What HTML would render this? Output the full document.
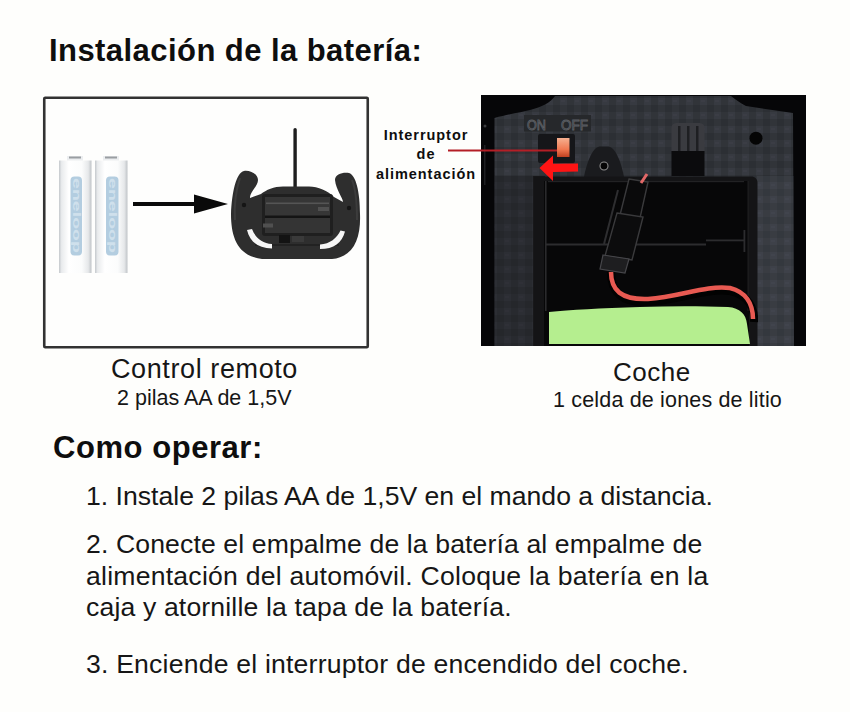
<!DOCTYPE html>
<html><head><meta charset="utf-8">
<style>
html,body{margin:0;padding:0;background:#fefefc;width:850px;height:712px;overflow:hidden;position:relative}
.t{position:absolute;font-family:"Liberation Sans",sans-serif;white-space:nowrap;color:#161616;line-height:1}
.b{font-weight:bold;color:#0e0e0e}
svg{position:absolute;left:0;top:0}
</style></head><body>
<svg width="850" height="712" viewBox="0 0 850 712">
<defs>
 <linearGradient id="batg" x1="0" x2="1" y1="0" y2="0">
  <stop offset="0" stop-color="#c4c8cc"/>
  <stop offset="0.08" stop-color="#e9ebed"/>
  <stop offset="0.3" stop-color="#ffffff"/>
  <stop offset="0.7" stop-color="#fbfcfc"/>
  <stop offset="0.9" stop-color="#e6e8ea"/>
  <stop offset="1" stop-color="#bfc3c7"/>
 </linearGradient>
 <pattern id="carbon" width="14" height="14" patternUnits="userSpaceOnUse">
  <rect width="14" height="14" fill="#313439"/>
  <rect x="0" y="0" width="7" height="7" fill="#373a41"/>
  <rect x="7" y="7" width="7" height="7" fill="#2c2f34"/>
  <rect x="1" y="2" width="4" height="2" fill="#3d4048" opacity="0.6"/>
 </pattern>
 <linearGradient id="sw" x1="0" x2="0" y1="0" y2="1">
  <stop offset="0" stop-color="#f6b090"/>
  <stop offset="0.6" stop-color="#f07850"/>
  <stop offset="1" stop-color="#c04020"/>
 </linearGradient>
</defs>
<!-- left box -->
<rect x="44.25" y="97.75" width="323.5" height="249.5" rx="1" fill="#fefefd" stroke="#323232" stroke-width="2.6"/>
<!-- batteries -->
<g>
<rect x="59" y="160.5" width="32.5" height="112.5" fill="url(#batg)"/>
<rect x="95" y="160.5" width="32.5" height="112.5" fill="url(#batg)"/>
<rect x="67" y="156" width="16" height="4.5" fill="#eceef0"/><rect x="69" y="156.5" width="12" height="2" fill="#9a9ea2"/>
<rect x="103" y="156" width="16" height="4.5" fill="#eceef0"/><rect x="105" y="156.5" width="12" height="2" fill="#9a9ea2"/>
<rect x="70.5" y="176.5" width="11.5" height="79" rx="4" fill="#b3cde0"/>
<rect x="106" y="176.5" width="12.5" height="79" rx="4" fill="#b3cde0"/>
<text transform="translate(72.5,178) rotate(90)" font-family="Liberation Sans" font-weight="bold" font-size="11" fill="#cfe0ec" textLength="75" lengthAdjust="spacingAndGlyphs">eneloop</text>
<text transform="translate(108.5,178) rotate(90)" font-family="Liberation Sans" font-weight="bold" font-size="11" fill="#cfe0ec" textLength="75" lengthAdjust="spacingAndGlyphs">eneloop</text>
</g>
<!-- arrow -->
<rect x="133" y="202" width="64" height="4" fill="#0a0a0a"/>
<polygon points="194,194.5 228,204 194,213.5" fill="#0a0a0a"/>
<!-- controller -->
<rect x="293.4" y="128" width="3.4" height="62" rx="1.7" fill="#1e1e1e"/>
<path d="M244,171 C236,173 232,192 231,214 C231,238 238,256 262,259 L332,259 C354,257 361,238 360,214 C360,192 356,175 349,173 C343,172 335,174 335,180 C336,190 343,198 343,202 L334,197 C328,191 318,186.5 309,186.5 L283,186.5 C274,186.5 266,190 261,194 L250,198 C250,192 258,186 258,180 C258,174 250,170 244,171 Z" fill="#2e2e2e"/>
<path d="M240,178 C236,190 234,205 235,220" fill="none" stroke="#3c3c3c" stroke-width="2"/>
<path d="M352,180 C356,190 357,205 357,220" fill="none" stroke="#3c3c3c" stroke-width="2"/>
<rect x="262" y="194" width="71" height="42" rx="3" fill="#1f1f1f"/>
<rect x="265" y="197" width="65" height="19.5" fill="#363636"/>
<rect x="265" y="218" width="65" height="15" fill="#343434"/>
<rect x="266" y="202.5" width="63" height="1.6" fill="#555"/>
<rect x="265" y="215.5" width="65" height="2.5" fill="#141414"/>
<rect x="318" y="207" width="11" height="4" fill="#505050"/>
<rect x="263" y="223.5" width="10" height="4" fill="#505050"/>
<rect x="279" y="235" width="11" height="8" fill="#131313"/>
<rect x="292" y="236" width="12" height="6" fill="#3a3a3a"/>
<rect x="255" y="244" width="84" height="2" fill="#222"/>
<path d="M247,230 C250,242 258,248 272,248.5 L272,244 C262,243.5 255,237 252,229 Z" fill="#f6f6f6"/>
<path d="M345,231.5 C342,243 334,249 320,249 L320,244.5 C330,244 337,238 340.5,230.5 Z" fill="#f6f6f6"/>
<circle cx="244" cy="205" r="2.2" fill="#151515"/>
<circle cx="349" cy="208" r="2.2" fill="#151515"/>
<!-- car photo -->
<rect x="481" y="95" width="325" height="251" fill="#060608"/>
<rect x="484" y="145" width="1.5" height="40" fill="#1e1f22"/><circle cx="485" cy="126" r="1.5" fill="#3a3b3e"/>
<path d="M494.5,118 C510,114 522,112 530,110 C542,107 550,103 555,96 L731,96 C736,100 742,104 746,106 L793,113 L794,346 L494.5,346 Z" fill="url(#carbon)"/>
<rect x="494.5" y="176" width="39" height="170" fill="#1a1b1e" opacity="0.35"/>
<rect x="757" y="176" width="37" height="170" fill="#6a7080" opacity="0.14"/>
<rect x="533" y="176" width="12" height="170" fill="#18181a"/>
<!-- on off label -->
<rect x="524" y="115" width="67" height="16.5" fill="#26282b"/>
<text x="527" y="129.5" font-family="Liberation Sans" font-size="14" fill="#26282b" stroke="#5c5f64" stroke-width="0.9" textLength="19" lengthAdjust="spacingAndGlyphs">ON</text><text x="561" y="129.5" font-family="Liberation Sans" font-size="14" fill="#26282b" stroke="#5c5f64" stroke-width="0.9" textLength="27" lengthAdjust="spacingAndGlyphs">OFF</text>
<!-- switch slot -->
<rect x="538" y="134" width="37" height="29" rx="2" fill="#151619"/>
<rect x="557" y="138" width="12.5" height="19" fill="url(#sw)"/>
<!-- screw boss -->
<path d="M584,177 C586,166 590,154 595,149 C597,147 599,146.5 601,146.5 L607,146.5 C609,146.5 611,147 613,149 C618,154 622,166 624,177 Z" fill="#1a1b1e"/>
<circle cx="604" cy="166" r="4" fill="#050505" stroke="#8c8c8c" stroke-width="1.1"/>
<!-- connector -->
<path d="M671.5,151 L671.5,128 C671.5,124 674,123 678,123 L698,123 C702,123 704.5,124 704.5,128 L704.5,151 Z" fill="#3a3b40"/>
<rect x="678" y="126" width="2.5" height="25" fill="#1e1f22"/>
<rect x="687" y="126" width="2.5" height="25" fill="#1e1f22"/>
<rect x="696" y="126" width="2.5" height="25" fill="#1e1f22"/>
<rect x="671.5" y="151" width="33" height="25" fill="#0b0b0d"/>
<circle cx="756" cy="138.2" r="6.5" fill="#050505"/>
<!-- compartment -->
<path d="M534,346 L534,176.5 L751,176.5 C755,176.5 757.5,179 757.5,183 L757.5,346 Z" fill="#141416"/>
<rect x="544" y="181" width="205" height="165" fill="#070708"/>
<rect x="545" y="181" width="1.6" height="130" fill="#2a2a2c"/>
<rect x="747.5" y="181" width="1.4" height="130" fill="#1e1e20"/>
<rect x="548" y="181" width="196" height="1.2" fill="#222224"/>
<rect x="546" y="243.5" width="160" height="2" fill="#2c2c2e"/>
<rect x="706" y="239.5" width="39" height="1.8" fill="#2c2c2e"/>
<rect x="743.5" y="230" width="1.8" height="22" fill="#2c2c2e"/>
<!-- wire connector -->
<path d="M629,179 L648,182 L640,218 L620,215 Z" fill="#0a0a0b" stroke="#3a3a3c" stroke-width="1.4"/>
<path d="M617,213 L643,217 L632,260 L605,256 Z" fill="#0c0c0d" stroke="#3a3a3c" stroke-width="1.4"/>
<path d="M618,190 L604,244" stroke="#2e2e30" stroke-width="2"/>
<path d="M603,255 L629,259 L625,273 L600,269 Z" fill="#1e1e20" stroke="#46464a" stroke-width="1.2"/>
<line x1="641" y1="183" x2="647" y2="174" stroke="#e26868" stroke-width="3"/>
<!-- battery -->
<path d="M549,312 C570,310 600,308 640,307 C670,306 700,306 728,307 C740,308 746,314 747,324 L750,344 L549,344 Z" fill="#b5ee8f"/>
<path d="M611,272 C611,292 621,303 648,302 C680,300 705,288 730,291 C748,295 755,308 754,322" fill="none" stroke="#020202" stroke-width="8"/>
<path d="M611,272 C611,290 621,300 648,299 C680,297 705,285 730,288 C746,292 753,304 753,319" fill="none" stroke="#e85a52" stroke-width="4.5"/>
<!-- pointer line & arrow -->
<line x1="448" y1="150.5" x2="557" y2="150.5" stroke="#b41e26" stroke-width="2"/>
<polygon points="539.5,168 553,155.5 553,163.8 578,163.5 578,171.5 553,172 553,181" fill="#ff1414"/>
</svg>

<div class="t b" style="left:49px;top:34.5px;font-size:31px;letter-spacing:0.44px">Instalación de la batería:</div>

<div class="t b" style="left:366px;top:126.4px;width:120px;text-align:center;font-size:14.5px;line-height:19.1px;letter-spacing:0.95px">Interruptor<br>de<br>alimentación</div>

<div class="t" style="left:111px;top:356px;font-size:27px;letter-spacing:0.6px">Control remoto</div>
<div class="t" style="left:117px;top:388px;font-size:21.5px">2 pilas AA de 1,5V</div>
<div class="t" style="left:613px;top:358.5px;font-size:26px;letter-spacing:0.5px">Coche</div>
<div class="t" style="left:553px;top:390px;font-size:21.5px;letter-spacing:0.17px">1 celda de iones de litio</div>

<div class="t b" style="left:53px;top:432px;font-size:31px;letter-spacing:0.55px">Como operar:</div>

<div class="t" style="left:86px;top:482.5px;font-size:26.6px">1. Instale 2 pilas AA de 1,5V en el mando a distancia.</div>
<div class="t" style="left:86px;top:531.3px;font-size:26.6px;letter-spacing:0.12px">2. Conecte el empalme de la batería al empalme de</div>
<div class="t" style="left:86px;top:562.7px;font-size:26.6px;letter-spacing:0.23px">alimentación del automóvil. Coloque la batería en la</div>
<div class="t" style="left:86px;top:594.2px;font-size:26.6px;letter-spacing:0.15px">caja y atornille la tapa de la batería.</div>
<div class="t" style="left:86px;top:651px;font-size:26.6px;letter-spacing:0.2px">3. Enciende el interruptor de encendido del coche.</div>
</body></html>
